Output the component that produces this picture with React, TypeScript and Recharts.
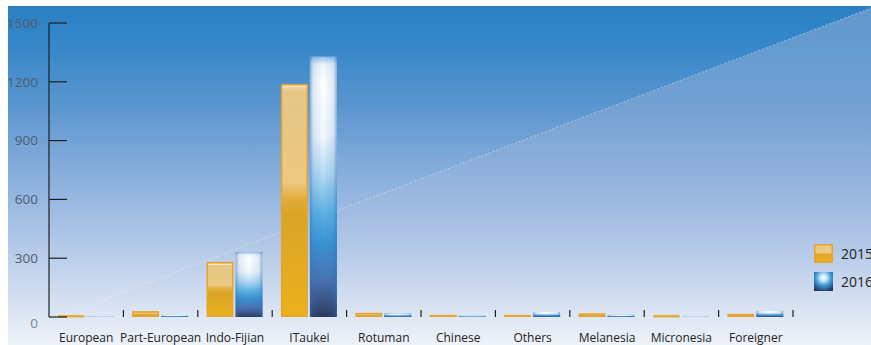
import React from 'react';
import { BarChart, Bar, XAxis, YAxis, Legend } from 'recharts';

// Population by ethnic group, two survey years
const categories = [
  'European',
  'Part-European',
  'Indo-Fijian',
  'ITaukei',
  'Rotuman',
  'Chinese',
  'Others',
  'Melanesia',
  'Micronesia',
  'Foreigner',
];
const values2015 = [8, 30, 281, 1189, 21, 11, 11, 19, 9, 16];
const values2016 = [2, 9, 330, 1329, 18, 6, 25, 11, 2, 31];
const seriesNames = ['2015', '2016'];
const yTicks = [0, 300, 600, 900, 1200, 1500];

const data = categories.map((category, i) => ({
  category,
  y2015: values2015[i],
  y2016: values2016[i],
}));

const W = 871;
const H = 345;
const MARGIN = { top: 23, right: 78, bottom: 0, left: 0 };
const Y_AXIS_W = 49;
const X_AXIS_H = 28;
const BAND = (W - MARGIN.left - MARGIN.right - Y_AXIS_W) / categories.length;
const FONT = '"Open Sans", "DejaVu Sans", sans-serif';

const YTick = (props: any) => {
  const { x, y, payload } = props;
  const isZero = payload.value === 0;
  return (
    <g>
      <line x1={x} x2={x + 18} y1={y} y2={y} stroke="#1e1e1e" strokeWidth={1.2} />
      <text
        x={x - 11}
        y={y + (isZero ? 6 : 0)}
        dy="0.35em"
        textAnchor="end"
        fontFamily={FONT}
        fontSize={13.5}
        fill={isZero ? '#7a8594' : '#4f5d70'}
      >
        {payload.value}
      </text>
    </g>
  );
};

const XTick = (props: any) => {
  const { x, y, payload, index } = props;
  const last = index === categories.length - 1;
  return (
    <g>
      {index > 0 && (
        <line x1={x - BAND / 2} x2={x - BAND / 2} y1={y - 7} y2={y} stroke="#1e1e1e" strokeWidth={1.2} />
      )}
      {last && (
        <line x1={x + BAND / 2} x2={x + BAND / 2} y1={y - 7} y2={y} stroke="#1e1e1e" strokeWidth={1.2} />
      )}
      <text x={x} y={y + 21} dy="0.35em" textAnchor="middle" fontFamily={FONT} fontSize={12} fill="#222">
        {payload.value}
      </text>
    </g>
  );
};

const GoldBar = (props: any) => {
  const { x, y, width, height } = props;
  if (!height || height <= 0) return null;
  const inset = height > 2 ? 0.75 : 0;
  return (
    <g>
      <rect
        x={x + 0.75}
        y={y + inset}
        width={width - 1.5}
        height={Math.max(height - inset * 2, 0.6)}
        fill="url(#goldFill)"
        stroke="#e6a42e"
        strokeWidth={height > 2 ? 1.5 : 0.8}
      />
      {height > 6 && (
        <rect x={x + 2} y={y + 2} width={width - 4} height={1.2} fill="#fff4dc" opacity={0.7} />
      )}
    </g>
  );
};

const BlueBar = (props: any) => {
  const { x, y, width, height } = props;
  if (!height || height <= 0) return null;
  return (
    <g>
      <rect x={x} y={y} width={width} height={height} fill="url(#blueFill)" />
      <rect x={x} y={y} width={width} height={height} fill="url(#blueEdge)" />
    </g>
  );
};

const LegendContent = () => (
  <div style={{ fontFamily: FONT, fontSize: 14, color: '#222' }}>
    {seriesNames.map((name, i) => (
      <div key={name} style={{ display: 'flex', alignItems: 'center', height: 19, marginBottom: 9 }}>
        <svg width={19} height={19} style={{ display: 'block' }}>
          {i === 0 ? (
            <rect x={0.75} y={0.75} width={17.5} height={17.5} fill="url(#goldLegend)" stroke="#e6a42e" strokeWidth={1.5} />
          ) : (
            <rect x={0} y={0} width={19} height={19} fill="url(#blueLegend)" />
          )}
        </svg>
        <span style={{ marginLeft: 8, whiteSpace: 'nowrap' }}>{name}</span>
      </div>
    ))}
  </div>
);

export default function App() {
  return (
    <div style={{ position: 'absolute', left: 0, top: 0, width: W, height: H, overflow: 'hidden', background: '#fff' }}>
      <svg width={W} height={H} style={{ position: 'absolute', left: 0, top: 0 }}>
        <defs>
          <linearGradient id="bgMain" x1="0" y1="6" x2="0" y2="345" gradientUnits="userSpaceOnUse">
            <stop offset="0" stopColor="#2a80c3" />
            <stop offset="0.1" stopColor="#3386c7" />
            <stop offset="0.3" stopColor="#5b96d0" />
            <stop offset="0.45" stopColor="#7ea9d9" />
            <stop offset="0.6" stopColor="#9dbbe2" />
            <stop offset="0.75" stopColor="#bccfea" />
            <stop offset="0.9" stopColor="#dbe5f3" />
            <stop offset="1" stopColor="#eef2f9" />
          </linearGradient>
          <linearGradient id="bgShade" x1="0" y1="6" x2="0" y2="345" gradientUnits="userSpaceOnUse">
            <stop offset="0" stopColor="#b4bedc" stopOpacity={0.42} />
            <stop offset="0.5" stopColor="#b4bedc" stopOpacity={0.2} />
            <stop offset="0.9" stopColor="#b4bedc" stopOpacity={0} />
          </linearGradient>
        </defs>
        <rect x={8} y={6} width={W - 8} height={H - 6} fill="url(#bgMain)" />
        <polygon points={`55,318 ${W},8 ${W},${H} 55,${H}`} fill="url(#bgShade)" />
        <line x1={55} y1={318} x2={W} y2={8} stroke="#ffffff" strokeOpacity={0.4} strokeWidth={1} strokeDasharray="2 2" />
      </svg>
      <div style={{ position: 'absolute', left: 0, top: 0 }}>
        <BarChart
          width={W}
          height={H}
          data={data}
          margin={MARGIN}
          barCategoryGap="11.7%"
          barGap={2}
        >
          <defs>
            <linearGradient id="goldFill" x1="0" y1="0" x2="0" y2="1">
              <stop offset="0" stopColor="#f2dcaa" />
              <stop offset="0.03" stopColor="#e6c586" />
              <stop offset="0.42" stopColor="#ecc880" />
              <stop offset="0.5" stopColor="#e0ab36" />
              <stop offset="0.56" stopColor="#dca427" />
              <stop offset="1" stopColor="#e9b21c" />
            </linearGradient>
            <linearGradient id="blueFill" x1="0" y1="0" x2="0" y2="1">
              <stop offset="0" stopColor="#8dbde6" />
              <stop offset="0.03" stopColor="#eef6fc" />
              <stop offset="0.1" stopColor="#ffffff" />
              <stop offset="0.3" stopColor="#f4f9fd" />
              <stop offset="0.45" stopColor="#b5dbf2" />
              <stop offset="0.6" stopColor="#5cb2e3" />
              <stop offset="0.72" stopColor="#3b92d2" />
              <stop offset="0.86" stopColor="#4a72b0" />
              <stop offset="0.97" stopColor="#34466f" />
              <stop offset="1" stopColor="#2a3658" />
            </linearGradient>
            <linearGradient id="blueEdge" x1="0" y1="0" x2="1" y2="0">
              <stop offset="0" stopColor="#2f6fb8" stopOpacity={0.55} />
              <stop offset="0.13" stopColor="#2f6fb8" stopOpacity={0.15} />
              <stop offset="0.5" stopColor="#2f6fb8" stopOpacity={0} />
              <stop offset="0.87" stopColor="#2f6fb8" stopOpacity={0.15} />
              <stop offset="1" stopColor="#2f6fb8" stopOpacity={0.55} />
            </linearGradient>
            <linearGradient id="goldLegend" x1="0" y1="0" x2="0" y2="1">
              <stop offset="0" stopColor="#ecc880" />
              <stop offset="0.45" stopColor="#ecc880" />
              <stop offset="0.55" stopColor="#dea52a" />
              <stop offset="1" stopColor="#e9b21c" />
            </linearGradient>
            <radialGradient id="blueLegend" cx="0.5" cy="0.3" r="0.75">
              <stop offset="0" stopColor="#ffffff" />
              <stop offset="0.25" stopColor="#bfe2f6" />
              <stop offset="0.55" stopColor="#3d97d6" />
              <stop offset="1" stopColor="#243766" />
            </radialGradient>
          </defs>
          <XAxis
            dataKey="category"
            height={X_AXIS_H}
            axisLine={false}
            tickLine={false}
            tickSize={0}
            tickMargin={0}
            interval={0}
            tick={<XTick />}
          />
          <YAxis
            width={Y_AXIS_W}
            domain={[0, 1500]}
            ticks={yTicks}
            axisLine={{ stroke: '#1e1e1e', strokeWidth: 1.2 }}
            tickLine={false}
            tickSize={0}
            tickMargin={0}
            tick={<YTick />}
          />
          <Legend
            layout="vertical"
            align="center"
            verticalAlign="middle"
            content={<LegendContent />}
            wrapperStyle={{ left: 814, top: 244, width: 80, height: 60 }}
          />
          <Bar dataKey="y2015" name={seriesNames[0]} shape={<GoldBar />} isAnimationActive={false} />
          <Bar dataKey="y2016" name={seriesNames[1]} shape={<BlueBar />} isAnimationActive={false} />
        </BarChart>
      </div>
    </div>
  );
}
